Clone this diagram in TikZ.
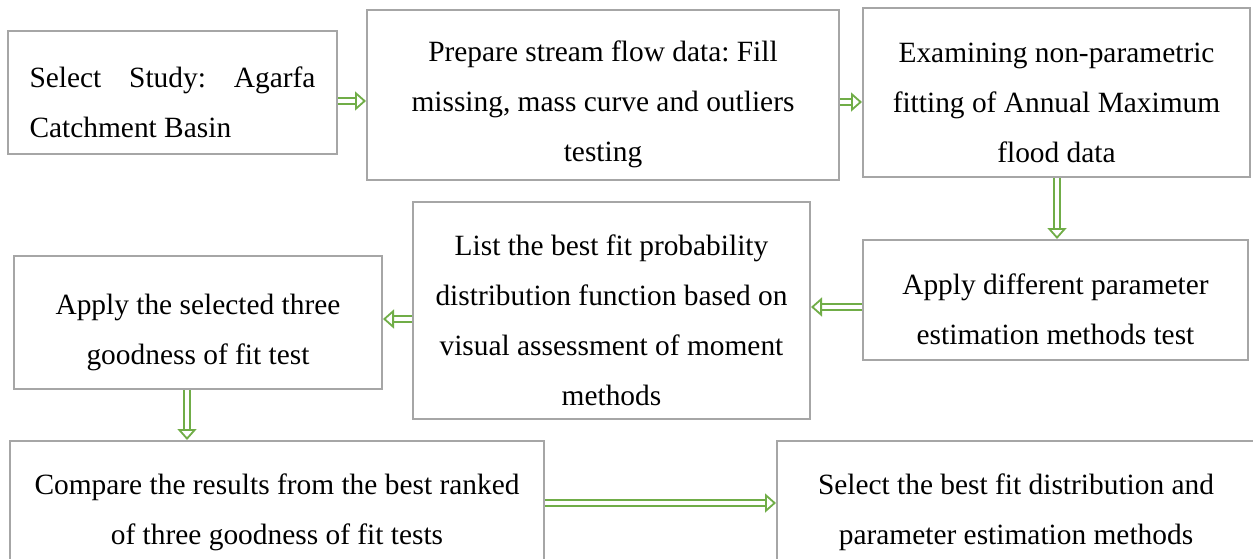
\documentclass[tikz,border=0pt]{standalone}
\usepackage{fontspec}
\setmainfont{Liberation Serif}
\frenchspacing
\usetikzlibrary{arrows.meta}
\definecolor{boxgray}{HTML}{A6A6A6}
\definecolor{flowgreen}{HTML}{70AD47}
\begin{document}
\begin{tikzpicture}[x=0.5pt, y=-0.5pt,
    box/.style={draw=boxgray, line width=1pt, inner sep=0pt, align=flush center,
      font=\fontsize{14.7}{25}\selectfont, execute at begin node={\rule{0pt}{20pt}}},
    flow/.style={draw=flowgreen, line width=0.9pt, double=white, double distance=2pt,
      -{Triangle[length=5.5pt, width=9.5pt, fill=white]}}]
\clip (0,0) rectangle (1253,558);
% First row
\node[box, minimum width=164.5pt, minimum height=61.5pt, text width=143pt, align=justify] (study) at (172.5,92.5) {Select Study: Agarfa\linebreak Catchment Basin};
\node[box, text width=236pt, minimum height=85pt] (prepare) at (603,95) {Prepare stream flow data: Fill\\missing, mass curve and outliers\\testing};
\node[box, text width=193.5pt, minimum height=84.5pt] (examine) at (1056.5,92.5) {Examining non-parametric\\fitting of Annual Maximum\\flood data};
% Second row
\node[box, text width=192.5pt, minimum height=60pt] (estimate) at (1055.5,300) {Apply different parameter\\estimation methods test};
\node[box, text width=198.5pt, minimum height=108.5pt] (listfit) at (611.5,310.5) {List the best fit probability\\distribution function based on\\visual assessment of moment\\methods};
\node[box, text width=184pt, minimum height=66.5pt] (goodness) at (198,322.5) {Apply the selected three\\goodness of fit test};
% Third row
\node[box, text width=267pt, minimum height=61.5pt] (compare) at (277,502.5) {Compare the results from the best ranked\\of three goodness of fit tests};
\node[box, text width=239pt, minimum height=61.5pt] (bestfit) at (1016,502.5) {Select the best fit distribution and\\parameter estimation methods};
% Arrows
\draw[flow] (study.east |- 0,101) -- (prepare.west |- 0,101);
\draw[flow] (prepare.east |- 0,102) -- (examine.west |- 0,102);
\draw[flow] (examine.south -| 1057,0) -- (estimate.north -| 1057,0);
\draw[flow] (estimate.west |- 0,307) -- (listfit.east |- 0,307);
\draw[flow] (listfit.west |- 0,319) -- (goodness.east |- 0,319);
\draw[flow] (goodness.south -| 187,0) -- (compare.north -| 187,0);
\draw[flow] (compare.east |- 0,503) -- (bestfit.west |- 0,503);
\end{tikzpicture}
\end{document}
